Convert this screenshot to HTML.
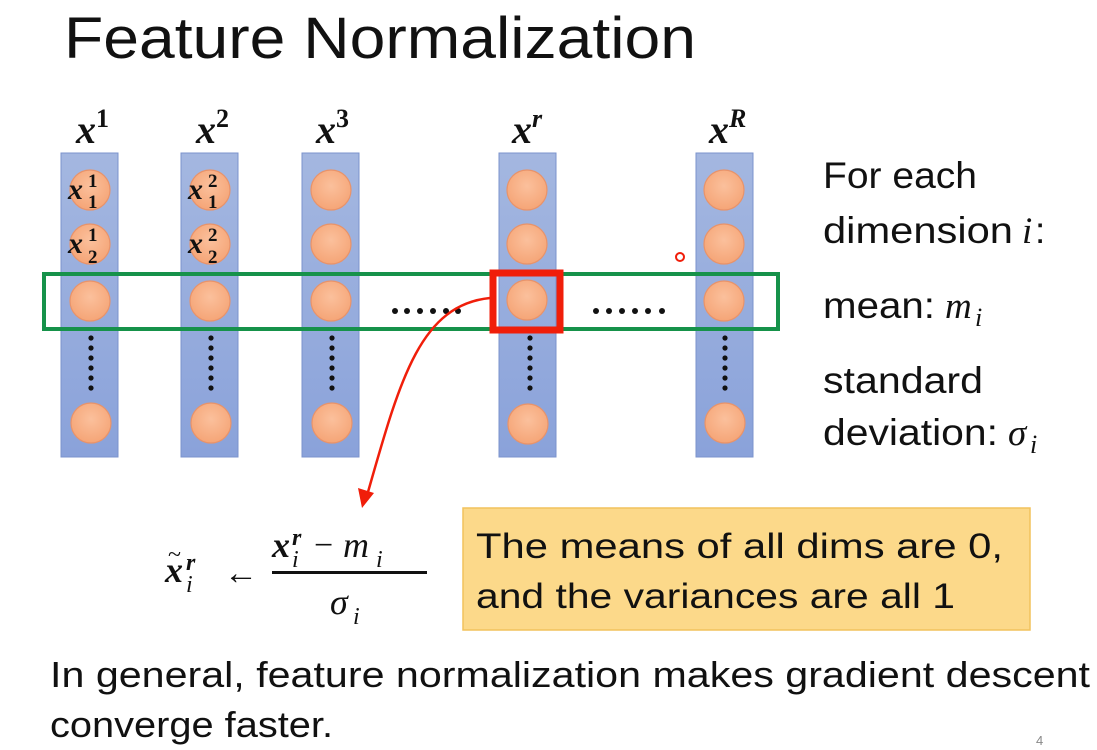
<!DOCTYPE html>
<html><head><meta charset="utf-8"><style>
body{margin:0;background:#fff;}
svg{display:block;}
.m{font-family:"Liberation Serif",serif;font-style:italic;font-weight:bold;}
.s{font-family:"Liberation Sans","DejaVu Sans",sans-serif;fill:#111;}
</style></head><body>
<svg width="1097" height="750" viewBox="0 0 1097 750" xmlns="http://www.w3.org/2000/svg">
<defs>
<radialGradient id="g" cx="50%" cy="40%" r="60%"><stop offset="0" stop-color="#fbc09c"/><stop offset="1" stop-color="#f5a577"/></radialGradient>
<linearGradient id="b" x1="0" y1="0" x2="0" y2="1"><stop offset="0" stop-color="#a4b7e0"/><stop offset="1" stop-color="#8aa2da"/></linearGradient>
<g id="vd" fill="#111"><circle cx="0" cy="338" r="2.6"/><circle cx="0" cy="348" r="2.6"/><circle cx="0" cy="358" r="2.6"/><circle cx="0" cy="368" r="2.6"/><circle cx="0" cy="378" r="2.6"/><circle cx="0" cy="388" r="2.6"/></g>
</defs>
<text x="64" y="58" class="s" font-size="58" fill="#222" textLength="632" lengthAdjust="spacingAndGlyphs">Feature Normalization</text>
<g>
<rect x="61" y="153" width="57" height="304" fill="url(#b)" stroke="#7b93cc"/>
<rect x="181" y="153" width="57" height="304" fill="url(#b)" stroke="#7b93cc"/>
<rect x="302" y="153" width="57" height="304" fill="url(#b)" stroke="#7b93cc"/>
<rect x="499" y="153" width="57" height="304" fill="url(#b)" stroke="#7b93cc"/>
<rect x="696" y="153" width="57" height="304" fill="url(#b)" stroke="#7b93cc"/>
</g>
<g fill="url(#g)" stroke="#e8936a" stroke-width="1.2">
<circle cx="90" cy="190" r="20"/><circle cx="90" cy="244" r="20"/><circle cx="90" cy="301" r="20"/><circle cx="91" cy="423" r="20"/>
<circle cx="210" cy="190" r="20"/><circle cx="210" cy="244" r="20"/><circle cx="210" cy="301" r="20"/><circle cx="211" cy="423" r="20"/>
<circle cx="331" cy="190" r="20"/><circle cx="331" cy="244" r="20"/><circle cx="331" cy="301" r="20"/><circle cx="332" cy="423" r="20"/>
<circle cx="527" cy="190" r="20"/><circle cx="527" cy="244" r="20"/><circle cx="527" cy="300" r="20"/><circle cx="528" cy="424" r="20"/>
<circle cx="724" cy="190" r="20"/><circle cx="724" cy="244" r="20"/><circle cx="724" cy="301" r="20"/><circle cx="725" cy="423" r="20"/>
</g>
<use href="#vd" x="91"/><use href="#vd" x="211"/><use href="#vd" x="332"/><use href="#vd" x="530"/><use href="#vd" x="725"/>
<g fill="#111">
<circle cx="395" cy="311" r="3"/><circle cx="407" cy="311" r="3"/><circle cx="420" cy="311" r="3"/><circle cx="433" cy="311" r="3"/><circle cx="446" cy="311" r="3"/><circle cx="458" cy="311" r="3"/>
<circle cx="596" cy="311" r="3"/><circle cx="609" cy="311" r="3"/><circle cx="622" cy="311" r="3"/><circle cx="635" cy="311" r="3"/><circle cx="648" cy="311" r="3"/><circle cx="662" cy="311" r="3"/>
</g>
<rect x="44" y="274" width="734" height="55" fill="none" stroke="#16924a" stroke-width="4"/>
<rect x="493" y="273" width="67" height="57" fill="none" stroke="#f01e0a" stroke-width="7"/>
<path d="M490 298 C420 305 400 380 368 492" fill="none" stroke="#f01e0a" stroke-width="2.5"/>
<polygon points="362,508 358,488 374,493" fill="#f01e0a"/>
<circle cx="680" cy="257" r="4" fill="none" stroke="#f01e0a" stroke-width="2"/>
<g class="m" font-size="40" fill="#111">
<text x="76" y="143">x<tspan font-size="26" dy="-16" font-style="normal">1</tspan></text>
<text x="196" y="143">x<tspan font-size="26" dy="-16" font-style="normal">2</tspan></text>
<text x="316" y="143">x<tspan font-size="26" dy="-16" font-style="normal">3</tspan></text>
<text x="512" y="143">x<tspan font-size="26" dy="-16">r</tspan></text>
<text x="709" y="143">x<tspan font-size="26" dy="-16">R</tspan></text>
</g>
<g class="m" font-size="30" fill="#111">
<text x="68" y="199">x</text><text x="88" y="187" font-size="19" font-style="normal">1</text><text x="88" y="208" font-size="19" font-style="normal">1</text>
<text x="68" y="253">x</text><text x="88" y="241" font-size="19" font-style="normal">1</text><text x="88" y="263" font-size="19" font-style="normal">2</text>
<text x="188" y="199">x</text><text x="208" y="187" font-size="19" font-style="normal">2</text><text x="208" y="208" font-size="19" font-style="normal">1</text>
<text x="188" y="253">x</text><text x="208" y="241" font-size="19" font-style="normal">2</text><text x="208" y="263" font-size="19" font-style="normal">2</text>
</g>
<g class="s" font-size="37">
<text x="823" y="188" textLength="154" lengthAdjust="spacingAndGlyphs">For each</text>
<text x="823" y="243" textLength="190" lengthAdjust="spacingAndGlyphs">dimension</text>
<text x="1022" y="243" font-family="Liberation Serif" font-style="italic">i</text><text x="1035" y="243">:</text>
<text x="823" y="318" textLength="112" lengthAdjust="spacingAndGlyphs">mean:</text>
<text x="945" y="318" font-family="Liberation Serif" font-style="italic">m</text><text x="975" y="326" font-family="Liberation Serif" font-style="italic" font-size="26">i</text>
<text x="823" y="393" textLength="160" lengthAdjust="spacingAndGlyphs">standard</text>
<text x="823" y="445" textLength="175" lengthAdjust="spacingAndGlyphs">deviation:</text>
<text x="1008" y="445" font-family="Liberation Serif" font-style="italic">σ</text><text x="1030" y="453" font-family="Liberation Serif" font-style="italic" font-size="26">i</text>
</g>
<g font-family="Liberation Serif" font-style="italic" fill="#111">
<text x="165" y="582" font-size="36" font-weight="bold">x</text>
<text x="168" y="562" font-size="24" font-style="normal">~</text>
<text x="186" y="570" font-size="24" font-weight="bold">r</text>
<text x="186" y="592" font-size="24">i</text>
<text x="224" y="584" font-size="34" font-style="normal">←</text>
<text x="272" y="557" font-size="36" font-weight="bold">x</text>
<text x="292" y="545" font-size="24" font-weight="bold">r</text>
<text x="292" y="567" font-size="24">i</text>
<text x="314" y="556" font-size="34" font-style="normal">−</text>
<text x="343" y="557" font-size="36">m</text>
<text x="376" y="567" font-size="24">i</text>
<rect x="272" y="571" width="155" height="3" fill="#111"/>
<text x="330" y="614" font-size="36">σ</text>
<text x="353" y="624" font-size="24">i</text>
</g>
<rect x="463" y="508" width="567" height="122" fill="#fcd98a" stroke="#f2c25c" stroke-width="1.5"/>
<g class="s" font-size="35">
<text x="476" y="558" textLength="527" lengthAdjust="spacingAndGlyphs">The means of all dims are 0,</text>
<text x="476" y="608" textLength="479" lengthAdjust="spacingAndGlyphs">and the variances are all 1</text>
<text x="50" y="687" font-size="36" textLength="1040" lengthAdjust="spacingAndGlyphs">In general, feature normalization makes gradient descent</text>
<text x="50" y="737" font-size="36" textLength="283" lengthAdjust="spacingAndGlyphs">converge faster.</text>
</g>
<text x="1036" y="745" font-family="Liberation Sans" font-size="13" fill="#888">4</text>
</svg>
</body></html>
